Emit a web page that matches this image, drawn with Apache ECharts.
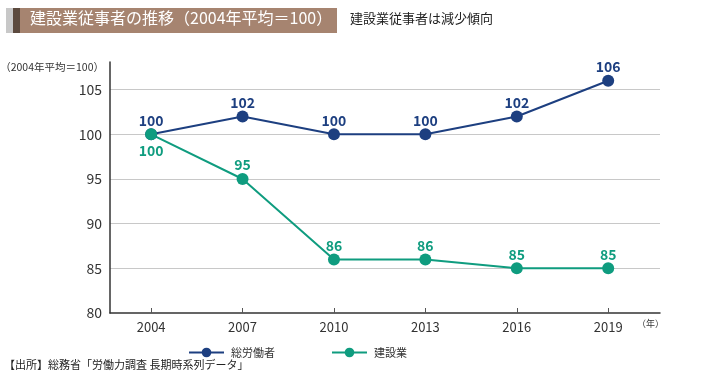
<!DOCTYPE html>
<html><head><meta charset="utf-8">
<script src="https://cdn.jsdelivr.net/npm/echarts@6/dist/echarts.min.js"></script>
<style>html,body{margin:0;padding:0;background:#fff}#c{width:710px;height:389px}</style>
</head><body><div id="c"></div>
<script>
const years = [2004, 2007, 2010, 2013, 2016, 2019];
const totalWorkers = [100, 102, 100, 100, 102, 106];
const construction = [100, 95, 86, 86, 85, 85];
const yTicks = [80, 85, 90, 95, 100, 105];
const seriesNames = ['総労働者', '建設業'];

const NAVY = '#1d3f80', TEAL = '#0f9c7f';
const FONT = '"Noto Sans CJK JP", "Noto Sans", sans-serif';
const chart = echarts.init(document.getElementById('c'));
chart.setOption({
  animation: false,
  textStyle: { fontFamily: FONT },
  grid: { left: 110, right: 50, top: 62, bottom: 76 },
  xAxis: {
    type: 'value', min: 2002.65, max: 2020.7,
    axisLine: { lineStyle: { color: '#333', width: 1.5 } },
    axisTick: { inside: true, length: 5, lineStyle: { color: '#555' }, customValues: years },
    axisLabel: { customValues: years, formatter: v => String(v), color: '#333', fontSize: 13, margin: 8, fontFamily: FONT },
    splitLine: { show: false }
  },
  yAxis: {
    type: 'value', min: 80, max: 108.1, interval: 5,
    axisLine: { show: true, lineStyle: { color: '#333', width: 1.5 } },
    axisTick: { show: false },
    axisLabel: { customValues: yTicks, color: '#333', fontSize: 14, margin: 8, fontFamily: FONT },
    splitLine: { show: true, showMaxLine: false, showMinLine: false, lineStyle: { color: '#c8c8c8', width: 1 } }
  },
  legend: {
    bottom: 26, left: 183, itemGap: 56, itemWidth: 35, itemHeight: 12,
    textStyle: { fontSize: 11, color: '#333', fontFamily: FONT, padding: [0, 0, 0, 2] },
    data: seriesNames
  },
  series: [
    {
      name: seriesNames[0], type: 'line', data: years.map((y, i) => [y, totalWorkers[i]]),
      color: NAVY, symbol: 'circle', symbolSize: 12, clip: false,
      lineStyle: { width: 2, color: NAVY }, itemStyle: { color: NAVY },
      label: { show: true, position: 'top', distance: 1, color: NAVY, fontSize: 14, fontWeight: 'bold', fontFamily: FONT,
        formatter: p => p.value[1] }
    },
    {
      name: seriesNames[1], type: 'line',
      data: years.map((y, i) => i === 0
        ? { value: [y, construction[i]], label: { position: 'bottom', distance: 3 } }
        : [y, construction[i]]),
      color: TEAL, symbol: 'circle', symbolSize: 12, clip: false,
      lineStyle: { width: 2, color: TEAL }, itemStyle: { color: TEAL },
      label: { show: true, position: 'top', distance: 1, color: TEAL, fontSize: 14, fontWeight: 'bold', fontFamily: FONT,
        formatter: p => p.value[1] }
    }
  ],
  graphic: [
    { type: 'rect', shape: { x: 6, y: 8, width: 7, height: 25 }, style: { fill: '#c8c8c8' } },
    { type: 'rect', shape: { x: 13, y: 8, width: 7, height: 25 }, style: { fill: '#5c4a3e' } },
    { type: 'rect', shape: { x: 20, y: 8, width: 317, height: 25 }, style: { fill: '#a68470' } },
    { type: 'text', left: 30, top: 10, style: { text: '建設業従事者の推移（2004年平均＝100）', fill: '#fff', font: '16px ' + FONT } },
    { type: 'text', left: 350, top: 12, style: { text: '建設業従事者は減少傾向', fill: '#222', font: '13px ' + FONT } },
    { type: 'text', right: 606, top: 62, style: { text: '（2004年平均＝100）', fill: '#333', font: '10.5px ' + FONT } },
    { type: 'text', left: 637, top: 319, style: { text: '（年）', fill: '#333', font: '9px ' + FONT } },
    { type: 'text', left: 4, top: 359, style: { text: '【出所】総務省「労働力調査 長期時系列データ」', fill: '#222', font: '11px ' + FONT } }
  ]
});
</script></body></html>
